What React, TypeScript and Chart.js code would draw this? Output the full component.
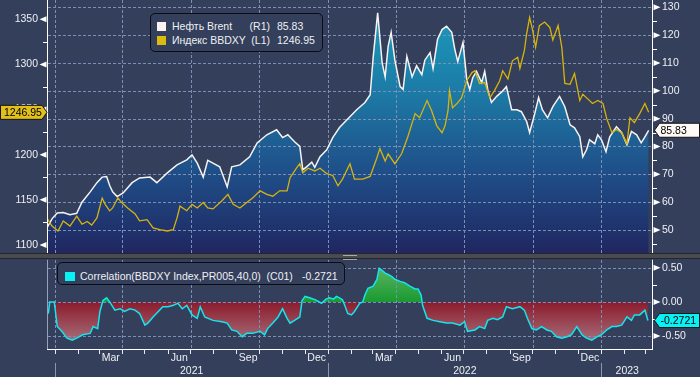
import React, { useEffect, useRef } from "react";
import { Chart, registerables } from "chart.js";

Chart.register(...registerables);

const BG = "#343f5b";
const GRID = "#7d8eb6";
const FONT_FAMILY = "'Liberation Sans', Arial, sans-serif";
const FONT_SIZE = 10.5;
const TEXT = "#eef0f4";

// x values are days counted from 2021-01-01
const brentDays = [-11,-4,3,11,20,29,36,47,56,63,69,73,77,83,91,103,113,127,136,150,163,176,183,190,198,204,211,220,230,236,247,260,270,283,296,304,311,320,327,331,336,343,347,354,363,371,380,390,403,414,421,425,431,437,441,445,449,454,461,465,470,477,483,490,494,501,505,511,517,523,530,534,538,545,550,554,558,563,570,574,578,583,590,597,603,610,617,623,630,634,641,646,651,658,665,674,681,688,694,701,705,710,714,721,725,730,736,741,750,757,764,770,777,783,787,793];
const brent = [50.7,54,56.1,56.3,55.5,56,60,63.7,67,69,69.2,66,63.7,62,63.3,67,68.7,69,67,70.5,73.4,75.2,77,74,69,75,74,72.7,65.5,72.7,73.4,76.3,81.3,84.2,86,83.2,84.2,81.7,80,71.6,72.7,74.4,72.5,76.3,78.8,83.2,86.8,89.6,93.2,95.8,98.6,112,128,110,105,116,121,111,101.5,100.5,112.4,105,109,105.8,111,113.7,108,118.5,122,123.2,121,115,110.5,117.4,104,100.5,104.7,107,103,107,100.5,95.8,98,99.7,101.5,93.2,93.2,92.5,89,85,92,97.6,93.2,90.3,94.3,98,94.3,87.8,86.7,83.5,76.3,78.8,82.4,81,84.2,82.4,78.1,83.5,87.1,85,80.6,85.4,84.2,81.3,83,85.83];

const bbdxyDays = [-11,-4,4,11,20,29,36,43,49,56,63,67,73,77,84,89,97,107,113,123,131,140,150,158,163,167,176,183,190,198,204,211,223,231,238,247,256,264,274,283,291,300,310,314,323,327,331,338,347,354,363,371,378,384,394,400,411,421,430,434,441,445,454,463,471,481,487,497,503,510,517,521,525,527,531,537,543,550,557,561,567,574,581,587,594,598,605,611,618,621,627,630,634,638,642,647,654,661,665,672,677,681,688,694,701,705,712,718,725,732,737,744,750,757,764,768,774,781,788,793];
const bbdxy = [1130,1121,1115.5,1126.7,1121,1132,1123,1126,1122,1130,1152,1145,1137.8,1141,1152,1147,1141,1134.4,1126.7,1128,1119,1117,1115.5,1117,1130,1143,1138,1145,1141,1147,1141,1140,1149,1156,1145,1141,1147,1152,1160,1156,1154,1160,1160,1174.5,1185.6,1190,1180,1185,1182,1185,1179,1177,1165.6,1173,1190,1173,1173,1176,1196.7,1206.7,1193,1201,1190,1201,1219,1245.5,1241,1260,1249,1232,1224.4,1232,1249,1271,1252,1256.7,1263,1282,1291,1293,1279,1280,1263,1271,1282,1293,1284,1304,1308,1295.5,1315.5,1334,1352,1338,1319,1343,1347,1341,1327,1343,1319,1279,1278,1290,1260,1267,1261.6,1256.7,1260,1256.7,1240,1224.4,1228,1224,1212,1241,1235.5,1245.5,1256.7,1246.95];

const corrDays = [-9,-7,-1,3,9,16,23,29,37,47,51,57,60,64,69,73,80,87,93,100,107,113,120,124,131,138,144,151,158,164,170,176,183,190,194,200,211,223,230,236,243,250,256,264,274,280,284,291,298,304,310,314,320,327,330,334,340,348,356,362,367,372,376,380,384,387,391,396,400,407,411,414,418,425,430,433,437,441,445,450,454,461,467,474,481,485,489,491,497,505,514,523,531,541,547,551,561,567,574,578,585,591,598,603,611,621,627,631,637,643,650,657,663,670,677,684,690,697,704,710,717,724,730,737,744,750,757,764,770,774,781,788,792];
const corr = [-0.17,0,0,-0.36,-0.43,-0.53,-0.56,-0.53,-0.48,-0.46,-0.36,-0.39,-0.14,0.02,0.06,0,-0.12,-0.1,-0.14,-0.1,-0.12,-0.17,-0.34,-0.31,-0.22,-0.14,-0.07,-0.07,-0.05,-0.02,-0.1,-0.05,-0.19,-0.24,-0.07,-0.22,-0.27,-0.29,-0.31,-0.41,-0.43,-0.51,-0.46,-0.46,-0.43,-0.48,-0.39,-0.31,-0.22,-0.1,-0.24,-0.31,-0.27,-0.22,0.02,0.08,0.06,0.03,-0.02,0.04,0.06,0.04,0.08,0.06,0.03,-0.05,-0.17,-0.19,-0.14,-0.02,0,0.1,0.2,0.23,0.33,0.49,0.46,0.42,0.4,0.37,0.33,0.3,0.28,0.23,0.19,0.19,0.1,-0.05,-0.24,-0.27,-0.29,-0.31,-0.31,-0.34,-0.29,-0.43,-0.41,-0.36,-0.39,-0.27,-0.24,-0.26,-0.22,-0.07,-0.1,-0.07,-0.12,-0.24,-0.39,-0.41,-0.36,-0.41,-0.43,-0.51,-0.53,-0.51,-0.48,-0.36,-0.48,-0.53,-0.56,-0.51,-0.48,-0.41,-0.36,-0.36,-0.34,-0.22,-0.27,-0.19,-0.19,-0.12,-0.2721];

const brentTicks = [50, 60, 70, 80, 90, 100, 110, 120, 130];
const brentMinor = [45, 55, 65, 75, 85, 95, 105, 115, 125];
const bbdxyTicks = [1100, 1150, 1200, 1250, 1300, 1350];
const bbdxyMinor = [1125, 1175, 1225, 1275, 1325];
const corrTicks = [-0.5, 0, 0.5];
const corrMinor = [-0.25, 0.25];
const monthLabels = ["Mar", "Jun", "Sep", "Dec", "Mar", "Jun", "Sep", "Dec"];
const monthLabelYear = [2021, 2021, 2021, 2021, 2022, 2022, 2022, 2022];
const monthLabelMonth = [2, 5, 8, 11, 2, 5, 8, 11];
const yearLabels = [2021, 2022, 2023];

const brentName = "Нефть Brent";
const bbdxyName = "Индекс BBDXY";
const corrName = "Correlation(BBDXY Index,PR005,40,0)  (C01)";

const X_MIN = -10.7;
const X_MAX = 798.8;
const BRENT_MIN = 41.74, BRENT_MAX = 132.62;
const BBDXY_MIN = 1091.1, BBDXY_MAX = 1371.4;
const CORR_MIN = -0.703, CORR_MAX = 0.616;

const dayOf = (y: number, m: number) =>
  Math.round((Date.UTC(y, m, 1) - Date.UTC(2021, 0, 1)) / 86400000);

const monthStarts: { d: number; m: number }[] = [];
for (let y = 2020; y <= 2023; y++)
  for (let m = 0; m < 12; m++) {
    const d = dayOf(y, m);
    if (d >= X_MIN && d <= X_MAX) monthStarts.push({ d, m });
  }
const quarterStarts = monthStarts.filter((o) => o.m % 3 === 0).map((o) => o.d);

const font = `${FONT_SIZE}px ${FONT_FAMILY}`;

function zeroPad(s: any) {
  s.paddingTop = 0;
  s.paddingBottom = 0;
  s.paddingLeft = 0;
  s.paddingRight = 0;
}

function tri(ctx: CanvasRenderingContext2D, x: number, y: number, dir: number) {
  ctx.beginPath();
  ctx.moveTo(x, y - 3);
  ctx.lineTo(x, y + 3);
  ctx.lineTo(x + dir * 7, y);
  ctx.closePath();
  ctx.fill();
}

function tag(
  ctx: CanvasRenderingContext2D,
  text: string,
  y: number,
  tipX: number,
  dir: number,
  fill: string
) {
  const half = 7, notch = 5;
  ctx.beginPath();
  if (dir === 1) {
    ctx.moveTo(0.5, y - half);
    ctx.lineTo(tipX - notch, y - half);
    ctx.lineTo(tipX, y);
    ctx.lineTo(tipX - notch, y + half);
    ctx.lineTo(0.5, y + half);
  } else {
    ctx.moveTo(tipX, y);
    ctx.lineTo(tipX + notch, y - half);
    ctx.lineTo(699.5, y - half);
    ctx.lineTo(699.5, y + half);
    ctx.lineTo(tipX + notch, y + half);
  }
  ctx.closePath();
  ctx.fillStyle = fill;
  ctx.fill();
  ctx.strokeStyle = "#151515";
  ctx.lineWidth = 1;
  ctx.stroke();
  ctx.fillStyle = "#000";
  ctx.font = font;
  ctx.textBaseline = "middle";
  ctx.textAlign = "left";
  ctx.fillText(text, dir === 1 ? 4 : tipX + notch + 1, y + 0.5);
}

// dashed grid placed through the library's scales (over the fills, under the lines)
function drawGrid(chart: any, yScale: any, yTicks: number[]) {
  const ctx: CanvasRenderingContext2D = chart.ctx;
  const a = chart.chartArea;
  const xScale = chart.scales.x;
  ctx.save();
  ctx.fillStyle = GRID;
  const L = Math.ceil(a.left) + 1, R = Math.floor(a.right) - 1;
  const T = Math.ceil(a.top), B = Math.floor(a.bottom);
  for (let k = 0; k < yTicks.length; k++) {
    const py = Math.round(yScale.getPixelForValue(yTicks[k]));
    if (!(py >= T && py <= B)) continue;
    for (let px = L; px < R; px += 5) ctx.fillRect(px, py, Math.min(3, R - px), 1);
  }
  for (let k = 0; k < quarterStarts.length; k++) {
    const px = Math.round(xScale.getPixelForValue(quarterStarts[k]));
    for (let py = T; py < B; py += 5) ctx.fillRect(px, py, 1, Math.min(3, B - py));
  }
  ctx.restore();
}

const topDecor = {
  id: "topDecor",
  beforeDatasetsDraw(chart: any) {
    drawGrid(chart, chart.scales.yR, brentTicks);
  },
  afterDraw(chart: any) {
    const ctx: CanvasRenderingContext2D = chart.ctx;
    const a = chart.chartArea;
    const yL = chart.scales.yL, yR = chart.scales.yR;
    ctx.save();
    ctx.strokeStyle = "#ffffff";
    ctx.lineWidth = 1;
    ctx.beginPath();
    ctx.moveTo(a.left + 0.5, a.top);
    ctx.lineTo(a.left + 0.5, a.bottom);
    ctx.moveTo(a.right - 0.5, a.top);
    ctx.lineTo(a.right - 0.5, a.bottom);
    for (const v of bbdxyMinor) {
      const y = Math.round(yL.getPixelForValue(v)) + 0.5;
      ctx.moveTo(a.left - 4, y);
      ctx.lineTo(a.left, y);
    }
    for (const v of brentMinor) {
      const y = Math.round(yR.getPixelForValue(v)) + 0.5;
      ctx.moveTo(a.right, y);
      ctx.lineTo(a.right + 4, y);
    }
    ctx.stroke();
    ctx.fillStyle = "#ffffff";
    for (const v of bbdxyTicks) tri(ctx, a.left - 0.5, yL.getPixelForValue(v), -1);
    for (const v of brentTicks) tri(ctx, a.right + 0.5, yR.getPixelForValue(v), 1);
    const lb = bbdxy[bbdxy.length - 1];
    tag(ctx, lb.toFixed(2), yL.getPixelForValue(lb), a.left, 1, "#e2c01c");
    const lr = brent[brent.length - 1];
    tag(ctx, lr.toFixed(2), yR.getPixelForValue(lr), a.right + 1.5, -1, "#fffaf6");
    ctx.restore();
  },
};

const botDecor = {
  id: "botDecor",
  beforeDatasetsDraw(chart: any) {
    drawGrid(chart, chart.scales.y, corrTicks);
  },
  afterDraw(chart: any) {
    const ctx: CanvasRenderingContext2D = chart.ctx;
    const a = chart.chartArea;
    const x = chart.scales.x, y = chart.scales.y;
    ctx.save();
    ctx.lineWidth = 1;
    ctx.strokeStyle = "#9aa2b5";
    ctx.beginPath();
    ctx.moveTo(a.left + 0.5, a.top);
    ctx.lineTo(a.left + 0.5, a.bottom);
    ctx.stroke();
    ctx.strokeStyle = "#ffffff";
    ctx.beginPath();
    ctx.moveTo(a.right - 0.5, a.top);
    ctx.lineTo(a.right - 0.5, a.bottom);
    ctx.moveTo(a.left, a.bottom - 0.5);
    ctx.lineTo(a.right, a.bottom - 0.5);
    for (const v of corrMinor) {
      const py = Math.round(y.getPixelForValue(v)) + 0.5;
      ctx.moveTo(a.right, py);
      ctx.lineTo(a.right + 4, py);
    }
    ctx.stroke();
    ctx.fillStyle = "#ffffff";
    for (const v of corrTicks) tri(ctx, a.right + 0.5, y.getPixelForValue(v), 1);

    // month labels, centred in their month
    ctx.font = font;
    ctx.fillStyle = TEXT;
    ctx.textAlign = "center";
    ctx.textBaseline = "middle";
    monthLabels.forEach((lbl, i) => {
      const yy = monthLabelYear[i], mm = monthLabelMonth[i];
      const mid = (dayOf(yy, mm) + dayOf(yy, mm + 1)) / 2;
      ctx.fillText(lbl, x.getPixelForValue(mid), a.bottom + 8.5);
    });
    // year labels and separators
    ctx.strokeStyle = "#8d95a8";
    ctx.beginPath();
    yearLabels.forEach((yr) => {
      const s = dayOf(yr, 0);
      if (s >= X_MIN) {
        const px = Math.round(x.getPixelForValue(s)) + 0.5;
        ctx.moveTo(px, a.bottom + 13);
        ctx.lineTo(px, a.bottom + 27);
      }
    });
    ctx.stroke();
    yearLabels.forEach((yr) => {
      const xs = Math.max(a.left, x.getPixelForValue(dayOf(yr, 0)));
      const xe = Math.min(a.right, x.getPixelForValue(dayOf(yr + 1, 0)));
      ctx.fillText(String(yr), (xs + xe) / 2, a.bottom + 21.5);
    });
    const lc = corr[corr.length - 1];
    tag(ctx, lc.toFixed(4), y.getPixelForValue(lc), a.right + 1.5, -1, "#08f2f6");
    ctx.restore();
  },
};

const yTickOpts = (cb: (v: any) => string) => ({
  autoSkip: false,
  padding: 9,
  color: TEXT,
  font: { family: FONT_FAMILY, size: FONT_SIZE },
  callback: cb,
});

function topConfig(): any {
  return {
    type: "line",
    data: {
      datasets: [
        {
          label: bbdxyName,
          data: bbdxyDays.map((d, i) => ({ x: d, y: bbdxy[i] })),
          yAxisID: "yL",
          borderColor: "#d7b30e",
          borderWidth: 1.3,
          pointRadius: 0,
          fill: false,
          order: 1,
        },
        {
          label: brentName,
          data: brentDays.map((d, i) => ({ x: d, y: brent[i] })),
          yAxisID: "yR",
          borderColor: "#f6f3f2",
          borderWidth: 1.5,
          pointRadius: 0,
          fill: "start",
          order: 2,
          backgroundColor: (c: any) => {
            const { chart } = c;
            const a = chart.chartArea;
            if (!a) return "rgba(0,0,0,0)";
            const g = chart.ctx.createLinearGradient(0, a.top, 0, a.bottom);
            g.addColorStop(0, "#1a9fbd");
            g.addColorStop(0.35, "#1c7ca7");
            g.addColorStop(0.7, "#1f4c86");
            g.addColorStop(1, "#202661");
            return g;
          },
        },
      ],
    },
    options: {
      responsive: false,
      animation: false,
      events: [],
      devicePixelRatio: 1,
      layout: { padding: 0 },
      plugins: {
        legend: { display: false },
        tooltip: { enabled: false },
        filler: { drawTime: "beforeDatasetsDraw" },
      },
      scales: {
        x: {
          type: "linear",
          min: X_MIN,
          max: X_MAX,
          grid: { display: false, drawTicks: false },
          border: { display: false },
          ticks: { display: false },
          afterFit: (s: any) => {
            s.height = 0;
            zeroPad(s);
          },
        },
        yR: {
          type: "linear",
          position: "right",
          min: BRENT_MIN,
          max: BRENT_MAX,
          grid: { display: false, drawTicks: false },
          border: { display: false },
          ticks: yTickOpts((v) => String(v)),
          afterBuildTicks: (s: any) => {
            s.ticks = brentTicks.map((v) => ({ value: v }));
          },
          afterFit: (s: any) => {
            s.width = 47;
            zeroPad(s);
          },
        },
        yL: {
          type: "linear",
          position: "left",
          min: BBDXY_MIN,
          max: BBDXY_MAX,
          grid: { display: false, drawTicks: false },
          border: { display: false },
          ticks: yTickOpts((v) => String(v)),
          afterBuildTicks: (s: any) => {
            s.ticks = bbdxyTicks.map((v) => ({ value: v }));
          },
          afterFit: (s: any) => {
            s.width = 47;
            zeroPad(s);
          },
        },
      },
    },
    plugins: [topDecor],
  };
}

function botConfig(): any {
  return {
    type: "line",
    data: {
      datasets: [
        {
          label: corrName,
          data: corrDays.map((d, i) => ({ x: d, y: corr[i] })),
          borderColor: "#12e6ee",
          borderWidth: 1.5,
          pointRadius: 0,
          fill: { target: { value: 0 }, above: "#2a9f3c", below: "#8c1a2c" },
        },
      ],
    },
    options: {
      responsive: false,
      animation: false,
      events: [],
      devicePixelRatio: 1,
      layout: { padding: { left: 47, top: 0, right: 0, bottom: 0 } },
      plugins: {
        legend: { display: false },
        tooltip: { enabled: false },
        filler: { drawTime: "beforeDatasetsDraw" },
      },
      scales: {
        x: {
          type: "linear",
          min: X_MIN,
          max: X_MAX,
          grid: {
            display: true,
            drawOnChartArea: false,
            drawTicks: true,
            tickLength: 4,
            tickColor: "#e8eaf0",
            tickWidth: 1,
          },
          border: { display: false },
          ticks: { display: false },
          afterBuildTicks: (s: any) => {
            s.ticks = monthStarts.map((o) => ({ value: o.d }));
          },
          afterFit: (s: any) => {
            s.height = 27;
            zeroPad(s);
          },
        },
        y: {
          type: "linear",
          position: "right",
          min: CORR_MIN,
          max: CORR_MAX,
          grid: { display: false, drawTicks: false },
          border: { display: false },
          ticks: yTickOpts((v) => Number(v).toFixed(2)),
          afterBuildTicks: (s: any) => {
            s.ticks = corrTicks.map((v) => ({ value: v }));
          },
          afterFit: (s: any) => {
            s.width = 47;
            zeroPad(s);
          },
        },
      },
    },
    plugins: [botDecor],
  };
}

const abs = (left: number, top: number, extra: any = {}) => ({
  position: "absolute" as const,
  left,
  top,
  ...extra,
});

const textStyle = (left: number, top: number, extra: any = {}) =>
  abs(left, top, {
    fontFamily: FONT_FAMILY,
    fontSize: FONT_SIZE,
    lineHeight: "13px",
    color: TEXT,
    whiteSpace: "pre",
    ...extra,
  });

export default function App() {
  const topRef = useRef<HTMLCanvasElement>(null);
  const botRef = useRef<HTMLCanvasElement>(null);

  useEffect(() => {
    document.body.style.margin = "0";
    document.body.style.background = BG;
    const top = new Chart(topRef.current as HTMLCanvasElement, topConfig());
    const bot = new Chart(botRef.current as HTMLCanvasElement, botConfig());
    const ys: any = bot.scales.y;
    const c = bot.ctx;
    const green = c.createLinearGradient(0, ys.getPixelForValue(0.5), 0, ys.getPixelForValue(0));
    green.addColorStop(0, "#5ab563");
    green.addColorStop(1, "#1b9a31");
    const red = c.createLinearGradient(0, ys.getPixelForValue(0), 0, ys.getPixelForValue(-0.6));
    red.addColorStop(0, "#8b1a2b");
    red.addColorStop(1, "#a8717e");
    (bot.data.datasets[0] as any).fill = { target: { value: 0 }, above: green, below: red };
    bot.update("none");
    return () => {
      top.destroy();
      bot.destroy();
    };
  }, []);

  const lastBrent = brent[brent.length - 1].toFixed(2);
  const lastBbdxy = bbdxy[bbdxy.length - 1].toFixed(2);
  const lastCorr = corr[corr.length - 1].toFixed(4);

  return (
    <div
      style={{
        position: "fixed",
        left: 0,
        top: 0,
        width: 700,
        height: 377,
        background: BG,
        overflow: "hidden",
      }}
    >
      <canvas
        ref={topRef}
        width={700}
        height={253}
        style={{ position: "absolute", left: 0, top: 0, width: 700, height: 253 }}
      />
      <canvas
        ref={botRef}
        width={700}
        height={118}
        style={{ position: "absolute", left: 0, top: 259, width: 700, height: 118 }}
      />
      {/* panel separator */}
      <div
        style={abs(0, 253, {
          width: 700,
          height: 6,
          boxSizing: "border-box",
          background: "#4a4b50",
          borderTop: "1px solid #26272b",
          borderBottom: "1px solid #26272b",
        })}
      />
      <div
        style={abs(343, 254.5, {
          width: 14,
          height: 3,
          borderTop: "1px solid #a8a8a8",
          borderBottom: "1px solid #a8a8a8",
        })}
      />
      {/* top legend */}
      <div
        style={abs(150, 13, {
          width: 173,
          height: 39,
          boxSizing: "border-box",
          border: "1.5px solid #0b0c12",
          borderRadius: 5,
          background: BG,
        })}
      />
      <div style={abs(157, 22, { width: 9, height: 9, background: "#fcf3ee" })} />
      <div style={abs(157, 35.5, { width: 9, height: 9, background: "#dcbb10" })} />
      <div style={textStyle(172, 20)}>{brentName}</div>
      <div style={textStyle(225, 20, { width: 45, textAlign: "right" })}>(R1)</div>
      <div style={textStyle(277, 20)}>{lastBrent}</div>
      <div style={textStyle(172, 33.5)}>{bbdxyName}</div>
      <div style={textStyle(225, 33.5, { width: 45, textAlign: "right" })}>(L1)</div>
      <div style={textStyle(277, 33.5)}>{lastBbdxy}</div>
      {/* bottom legend */}
      <div
        style={abs(57, 262, {
          width: 288,
          height: 23,
          boxSizing: "border-box",
          border: "1.5px solid #0b0c12",
          borderRadius: 5,
          background: BG,
        })}
      />
      <div style={abs(65, 271.5, { width: 9.5, height: 9.5, background: "#08f2f6" })} />
      <div style={textStyle(80, 269.5)}>{corrName}</div>
      <div style={textStyle(302, 269.5)}>{lastCorr}</div>
    </div>
  );
}
